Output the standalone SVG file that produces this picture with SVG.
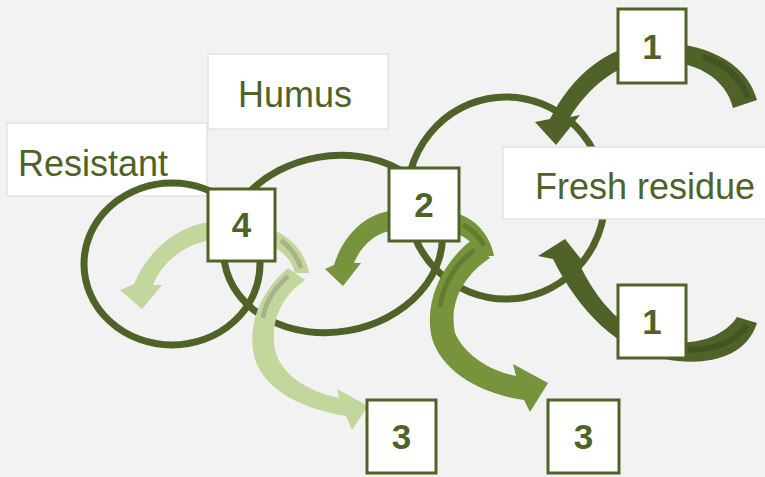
<svg xmlns="http://www.w3.org/2000/svg" width="765" height="477" viewBox="0 0 765 477">
<style>
.ring{fill:none;stroke:#4f6228;stroke-width:7}
.lbl{fill:#fff;stroke:#d9d9d9;stroke-width:1}
.lt{font-family:"Liberation Sans",Arial,sans-serif;font-size:36px;fill:#4f6228}
.nb{fill:#fff;stroke:#4f6228;stroke-width:3}
.nt{font-family:"Liberation Sans",Arial,sans-serif;font-size:35px;font-weight:bold;fill:#4f6228;text-anchor:middle}
.dk{fill:#4f6228}
.md{fill:#77933c}
.lg{fill:#c3d69b}
.sdk{fill:none;stroke:#435423;stroke-width:6}
.smd{fill:none;stroke:#637d2e;stroke-width:5}
.slg{fill:none;stroke:#a6b589;stroke-width:5}
</style>
<rect x="0" y="0" width="765" height="477" fill="#f2f2f2"/>
<g id="label-resistant"><rect class="lbl" x="7" y="123" width="200" height="73"/><text class="lt" x="18" y="176">Resistant</text></g>
<g id="label-humus"><rect class="lbl" x="208" y="54" width="180" height="75"/><text class="lt" x="238" y="107">Humus</text></g>
<g id="rings">
<ellipse class="ring" cx="172" cy="264" rx="88" ry="81"/>
<ellipse class="ring" cx="333" cy="244" rx="110" ry="88" transform="rotate(-10 333 244)"/>
<ellipse class="ring" cx="506" cy="198" rx="99" ry="101"/>
</g>
<g id="label-fresh"><rect class="lbl" x="503" y="147" width="270" height="72"/><text class="lt" x="535" y="199">Fresh residue</text></g>
<g id="connectors">
<path class="dk" d="M 757 100 C 745 55 690 40 650 43 C 608 46 572 75 550 119 L 535 122 L 556 145 L 580 115 L 570 117 C 587 90 615 63 650 61 C 690 59 725 75 733 108 Z"/>
<path class="sdk" d="M 748 98 C 740 76 722 62 703 57"/>
<path class="dk" d="M 757 323 C 745 361 700 366 665 359 C 618 351 578 310 553 259 L 538 256 L 565 239 L 584 263 L 579 263 C 596 300 625 336 670 342 C 700 345 725 335 737 317 Z"/>
<path class="sdk" d="M 747 325 C 735 343 712 350 688 350"/>
<path class="md" d="M 390 211 C 366 214 343 235 334 265 L 325 269 L 343 286 L 361 263 L 354 263 C 359 250 372 234 390 231 Z"/>
<path class="lg" d="M 210 222 C 178 226 148 250 134 284 L 120 290 L 142 309 L 162 285 L 153 285 C 161 265 180 246 210 240 Z"/>
<path class="md" d="M 458 214 C 477 219 491 238 494 256 L 479 256 C 476 246 469 239 458 234 Z"/>
<path class="smd" d="M 463 225 C 472 230 480 237 484 246"/>
<path class="md" d="M 474 238 C 442 262 425 300 431 334 C 437 364 470 392 524 400 L 530 412 L 548 383 L 513 364 L 516 376 C 486 370 463 352 455 333 C 449 305 461 277 490 258 Z"/>
<path class="smd" d="M 474 250 C 455 265 443 285 440 307"/>
<path class="lg" d="M 276 231 C 293 239 306 255 309 273 L 295 273 C 292 262 286 255 276 248 Z"/>
<path class="slg" d="M 281 240 C 290 247 298 258 301 268"/>
<path class="lg" d="M 288 268 C 262 290 249 320 253 350 C 257 382 290 407 346 416 L 352 430 L 368 406 L 337 389 L 339 398 C 306 391 281 374 275 350 C 270 320 282 296 305 280 Z"/>
<path class="slg" d="M 288 276 C 275 288 266 300 263 318"/>
</g>
<g id="box-1-top"><rect class="nb" x="618" y="9" width="68" height="74"/><text class="nt" x="652" y="59">1</text></g>
<g id="box-1-bottom"><rect class="nb" x="618" y="285" width="68" height="73"/><text class="nt" x="652" y="334">1</text></g>
<g id="box-2"><rect class="nb" x="389" y="168" width="70" height="73"/><text class="nt" x="424" y="217">2</text></g>
<g id="box-4"><rect class="nb" x="208" y="189" width="67" height="72"/><text class="nt" x="241.5" y="237">4</text></g>
<g id="box-3-left"><rect class="nb" x="367" y="400" width="69" height="73"/><text class="nt" x="401.5" y="449">3</text></g>
<g id="box-3-right"><rect class="nb" x="548" y="400" width="71" height="73"/><text class="nt" x="583.5" y="449">3</text></g>
</svg>
